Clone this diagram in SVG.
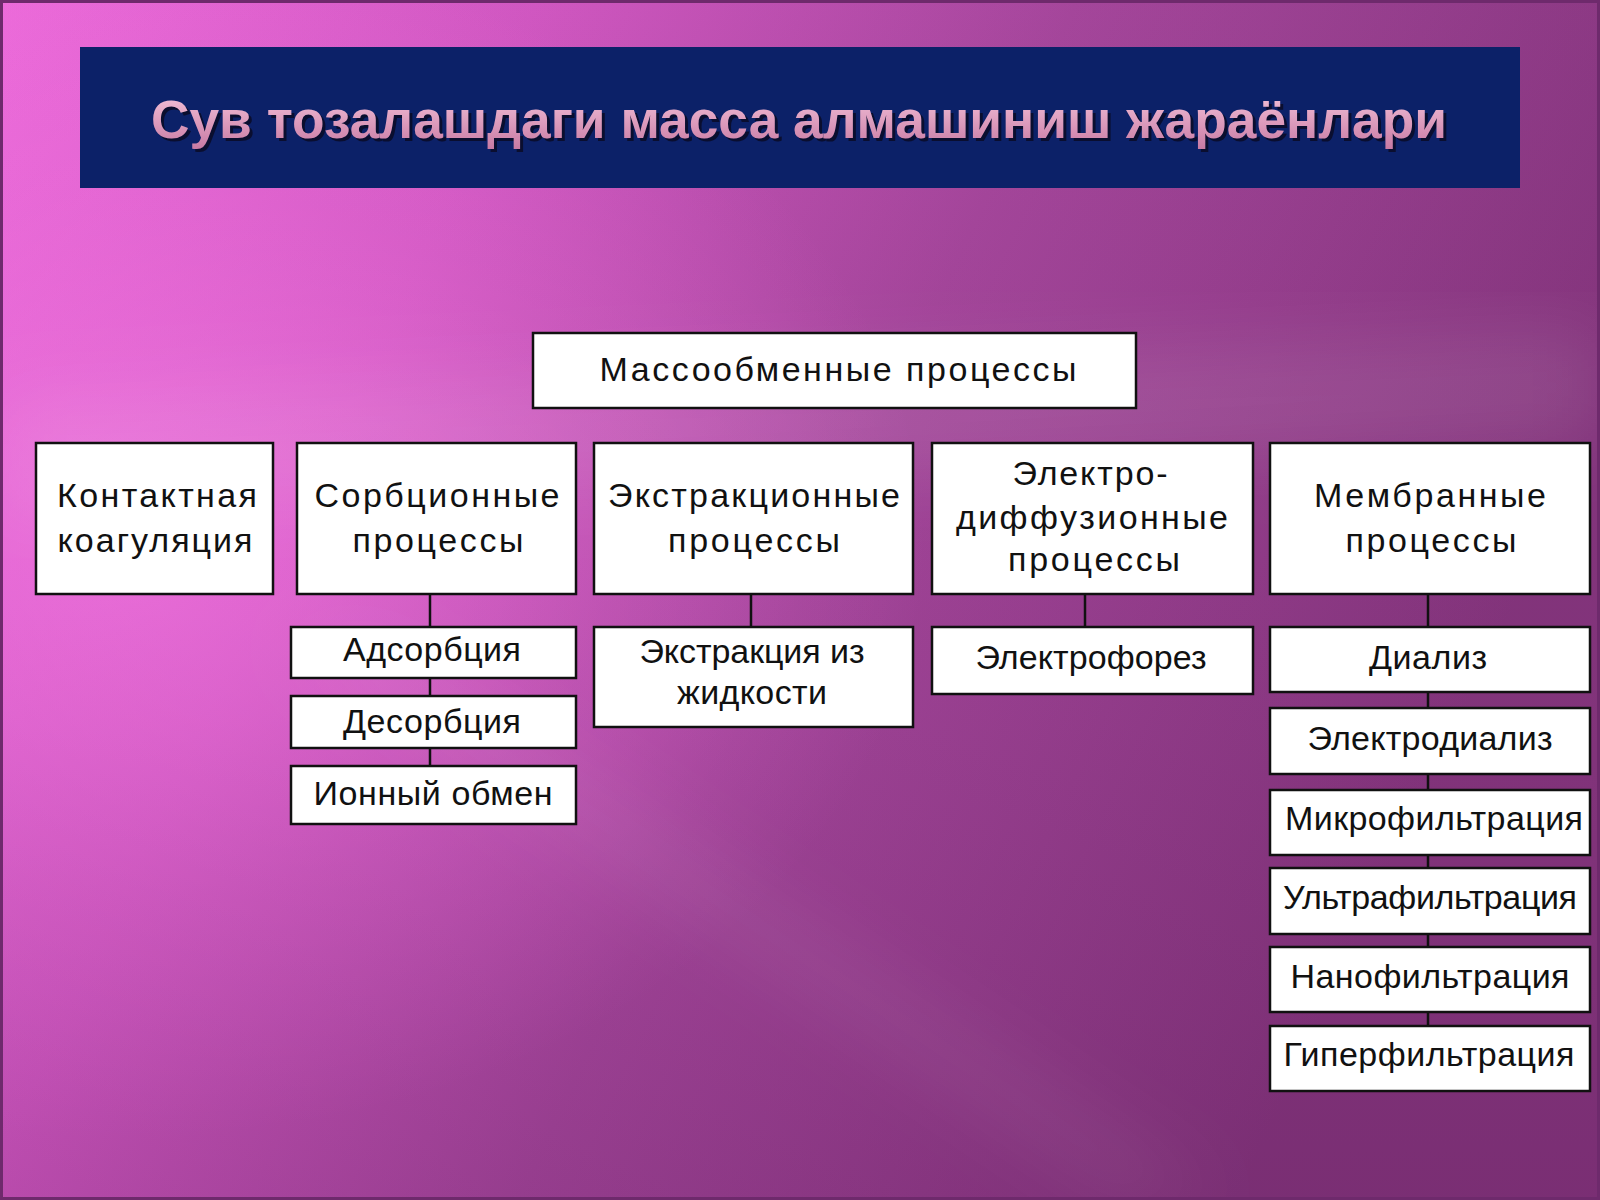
<svg xmlns="http://www.w3.org/2000/svg" width="1600" height="1200" viewBox="0 0 1600 1200">
<defs>
<linearGradient id="bg" x1="0" y1="0" x2="1" y2="0.35">
<stop offset="0" stop-color="#f36ee0"/>
<stop offset="0.3" stop-color="#d65ac6"/>
<stop offset="0.6" stop-color="#a8489e"/>
<stop offset="1" stop-color="#86367e"/>
</linearGradient>
<linearGradient id="shade" x1="0" y1="0" x2="0" y2="1">
<stop offset="0" stop-color="#5a1a5a" stop-opacity="0.05"/>
<stop offset="0.6" stop-color="#5a1a5a" stop-opacity="0.1"/>
<stop offset="1" stop-color="#4a104a" stop-opacity="0.2"/>
</linearGradient>
<radialGradient id="glow" cx="0.08" cy="0.45" r="0.5">
<stop offset="0" stop-color="#ff7cec" stop-opacity="0.75"/>
<stop offset="0.6" stop-color="#ff7cec" stop-opacity="0.25"/>
<stop offset="1" stop-color="#ff7cec" stop-opacity="0"/>
</radialGradient>
<filter id="soft" x="-20%" y="-20%" width="140%" height="140%">
<feGaussianBlur stdDeviation="35"/>
</filter>
<linearGradient id="tfill" x1="0" y1="0" x2="0" y2="1">
<stop offset="0" stop-color="#f6c6dc"/>
<stop offset="1" stop-color="#c87aa4"/>
</linearGradient>
<style>
.box{fill:#ffffff;stroke:#111111;stroke-width:2.5}
.t{font-family:"Liberation Sans",Arial,sans-serif;font-size:34px;fill:#111111;text-anchor:middle}
.ttl{font-family:"Liberation Sans",Arial,sans-serif;font-size:54px;font-weight:bold;text-anchor:middle}
.ln{stroke:#111111;stroke-width:2.5;fill:none}
</style>
</defs>
<g id="background">
<rect x="0" y="0" width="1600" height="1200" fill="url(#bg)"/>
<rect x="0" y="0" width="1600" height="1200" fill="url(#glow)"/>
<polygon points="0,400 1600,330 1600,440 0,520" fill="#ffffff" fill-opacity="0.1" filter="url(#soft)"/>
<polygon points="280,640 380,640 1220,1200 1120,1200" fill="#ffffff" fill-opacity="0.08" filter="url(#soft)"/>
<rect x="0" y="0" width="1600" height="1200" fill="url(#shade)"/>
<rect x="1.5" y="1.5" width="1597" height="1197" fill="none" stroke="#6e2a6c" stroke-width="3"/>
</g>
<g id="title">
<rect x="80" y="47" width="1440" height="141" fill="#0c2168"/>
<text class="ttl" x="802" y="141" fill="#0a0a20" fill-opacity="0.8" textLength="1296" lengthAdjust="spacingAndGlyphs">Сув тозалашдаги масса алмашиниш жараёнлари</text>
<text class="ttl" x="799" y="138" fill="url(#tfill)" textLength="1296" lengthAdjust="spacingAndGlyphs">Сув тозалашдаги масса алмашиниш жараёнлари</text>
</g>
<g id="connectors">
<line class="ln" x1="430" y1="594" x2="430" y2="627"/>
<line class="ln" x1="430" y1="678" x2="430" y2="696"/>
<line class="ln" x1="430" y1="748" x2="430" y2="766"/>
<line class="ln" x1="751" y1="594" x2="751" y2="627"/>
<line class="ln" x1="1085" y1="594" x2="1085" y2="627"/>
<line class="ln" x1="1428" y1="594" x2="1428" y2="627"/>
<line class="ln" x1="1428" y1="692" x2="1428" y2="708"/>
<line class="ln" x1="1428" y1="774" x2="1428" y2="790"/>
<line class="ln" x1="1428" y1="855" x2="1428" y2="868"/>
<line class="ln" x1="1428" y1="934" x2="1428" y2="947"/>
<line class="ln" x1="1428" y1="1012" x2="1428" y2="1026"/>
</g>
<g id="root">
<rect class="box" x="533" y="333" width="603" height="75"/>
<text class="t" x="838" y="381" textLength="477" lengthAdjust="spacing">Массообменные процессы</text>
</g>
<g id="kontakt">
<rect class="box" x="36" y="443" width="237" height="151"/>
<text class="t" x="157" y="507" textLength="200" lengthAdjust="spacing">Контактная</text>
<text class="t" x="155" y="552" textLength="195" lengthAdjust="spacing">коагуляция</text>
</g>
<g id="sorb">
<rect class="box" x="297" y="443" width="279" height="151"/>
<text class="t" x="437" y="507" textLength="245" lengthAdjust="spacing">Сорбционные</text>
<text class="t" x="438" y="552" textLength="171" lengthAdjust="spacing">процессы</text>
</g>
<g id="extr">
<rect class="box" x="594" y="443" width="319" height="151"/>
<text class="t" x="754" y="507" textLength="292" lengthAdjust="spacing">Экстракционные</text>
<text class="t" x="754" y="552" textLength="172" lengthAdjust="spacing">процессы</text>
</g>
<g id="electro">
<rect class="box" x="932" y="443" width="321" height="151"/>
<text class="t" x="1090" y="485" textLength="155" lengthAdjust="spacing">Электро-</text>
<text class="t" x="1092" y="529" textLength="272" lengthAdjust="spacing">диффузионные</text>
<text class="t" x="1094" y="571" textLength="172" lengthAdjust="spacing">процессы</text>
</g>
<g id="membr">
<rect class="box" x="1270" y="443" width="320" height="151"/>
<text class="t" x="1430" y="507" textLength="232" lengthAdjust="spacing">Мембранные</text>
<text class="t" x="1431" y="552" textLength="171" lengthAdjust="spacing">процессы</text>
</g>
<g id="adsorb">
<rect class="box" x="291" y="627" width="285" height="51"/>
<text class="t" x="432" y="661" textLength="178" lengthAdjust="spacing">Адсорбция</text>
</g>
<g id="desorb">
<rect class="box" x="291" y="696" width="285" height="52"/>
<text class="t" x="432" y="733" textLength="178" lengthAdjust="spacing">Десорбция</text>
</g>
<g id="ion">
<rect class="box" x="291" y="766" width="285" height="58"/>
<text class="t" x="433" y="805" textLength="239" lengthAdjust="spacing">Ионный обмен</text>
</g>
<g id="extr-liq">
<rect class="box" x="594" y="627" width="319" height="100"/>
<text class="t" x="752" y="663" textLength="225" lengthAdjust="spacing">Экстракция из</text>
<text class="t" x="752" y="704" textLength="150" lengthAdjust="spacing">жидкости</text>
</g>
<g id="electrophoresis">
<rect class="box" x="932" y="627" width="321" height="67"/>
<text class="t" x="1091" y="669" textLength="231" lengthAdjust="spacing">Электрофорез</text>
</g>
<g id="dialysis">
<rect class="box" x="1270" y="627" width="320" height="65"/>
<text class="t" x="1428" y="669" textLength="118" lengthAdjust="spacing">Диализ</text>
</g>
<g id="electrodialysis">
<rect class="box" x="1270" y="708" width="320" height="66"/>
<text class="t" x="1430" y="750" textLength="245" lengthAdjust="spacing">Электродиализ</text>
</g>
<g id="microfiltration">
<rect class="box" x="1270" y="790" width="320" height="65"/>
<text class="t" x="1434" y="830" textLength="298" lengthAdjust="spacing">Микрофильтрация</text>
</g>
<g id="ultrafiltration">
<rect class="box" x="1270" y="868" width="320" height="66"/>
<text class="t" x="1430" y="909" textLength="294" lengthAdjust="spacing">Ультрафильтрация</text>
</g>
<g id="nanofiltration">
<rect class="box" x="1270" y="947" width="320" height="65"/>
<text class="t" x="1430" y="988" textLength="279" lengthAdjust="spacing">Нанофильтрация</text>
</g>
<g id="hyperfiltration">
<rect class="box" x="1270" y="1026" width="320" height="65"/>
<text class="t" x="1429" y="1066" textLength="291" lengthAdjust="spacing">Гиперфильтрация</text>
</g>
</svg>
